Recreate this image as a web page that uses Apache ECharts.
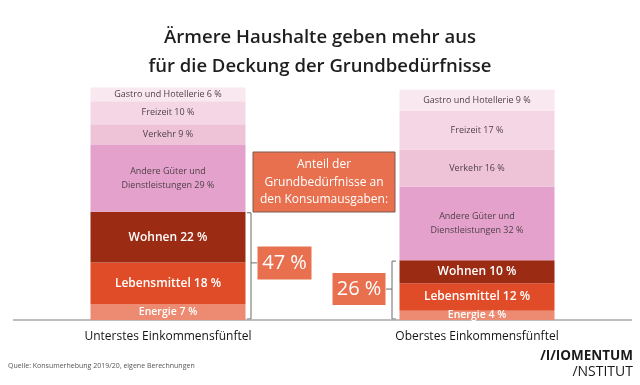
<!DOCTYPE html>
<html><head><meta charset="utf-8">
<script src="https://cdn.jsdelivr.net/npm/echarts@6/dist/echarts.min.js"></script>
<style>html,body{margin:0;padding:0;background:#fff}#c{width:640px;height:385px}</style>
</head><body><div id="c"></div>
<script>
// ---- data ----
const categories = ['Unterstes Einkommensfünftel', 'Oberstes Einkommensfünftel'];
const energie = [7, 4];
const lebensmittel = [18, 12];
const wohnen = [22, 10];
const andere = [29, 32];
const verkehr = [9, 16];
const freizeit = [10, 17];
const gastro = [6, 9];
const anteilGrundbeduerfnisse = [47, 26];

const FONT = 'Open Sans';
const chart = echarts.init(document.getElementById('c'), null, {renderer: 'canvas'});

function seg(name, labelName, data, color, textColor, size, weight, lh) {
  return {
    name: name, type: 'bar', stack: 'total', data: data, barWidth: 155,
    itemStyle: {color: color},
    emphasis: {disabled: true},
    label: {
      show: true, position: 'inside',
      formatter: p => labelName + ' ' + p.value + ' %',
      color: textColor, fontSize: size, fontWeight: weight, fontFamily: FONT,
      lineHeight: lh || Math.round(size * 1.3)
    }
  };
}

const option = {
  animation: false,
  backgroundColor: '#ffffff',
  title: {
    text: 'Ärmere Haushalte geben mehr aus\nfür die Deckung der Grundbedürfnisse',
    left: 'center', top: 18,
    textStyle: {fontFamily: FONT, fontSize: 18.5, fontWeight: 600, color: '#1e1e1e', lineHeight: 29}
  },
  grid: {left: 13.5, right: 8.5, top: 66.7, bottom: 65},
  xAxis: {
    type: 'category', data: categories,
    axisLine: {lineStyle: {color: '#a8a8a8', width: 1.5}},
    axisTick: {show: false},
    axisLabel: {fontFamily: FONT, fontSize: 12, fontWeight: 500, color: '#151515', margin: 11}
  },
  yAxis: {type: 'value', min: 0, max: 110, show: false, splitLine: {show: false}},
  series: [
    seg('Energie', 'Energie', energie, '#ec8b72', '#ffffff', 10.5, 600),
    seg('Lebensmittel', 'Lebensmittel', lebensmittel, '#e14c28', '#ffffff', 12, 600),
    seg('Wohnen', 'Wohnen', wohnen, '#9c2b14', '#ffffff', 12, 600),
    seg('Andere Güter und Dienstleistungen', 'Andere Güter und\nDienstleistungen', andere, '#e4a1cb', '#4f3f47', 9, 400, 14),
    seg('Verkehr', 'Verkehr', verkehr, '#eec3d8', '#4f3f47', 9, 400),
    seg('Freizeit', 'Freizeit', freizeit, '#f5d6e4', '#4f3f47', 9, 400),
    seg('Gastro und Hotellerie', 'Gastro und Hotellerie', gastro, '#f9e8f0', '#4f3f47', 9, 400)
  ]
};
chart.setOption(option);

// ---- annotations positioned from the axes ----
const halfBar = 77.5;
const basic0 = energie[0] + lebensmittel[0] + wohnen[0];
const basic1 = energie[1] + lebensmittel[1] + wohnen[1];
const p0top = chart.convertToPixel({gridIndex: 0}, [0, basic0]);
const p0bot = chart.convertToPixel({gridIndex: 0}, [0, 0]);
const p1top = chart.convertToPixel({gridIndex: 0}, [1, basic1]);
const p1bot = chart.convertToPixel({gridIndex: 0}, [1, 0]);

const bx0 = p0top[0] + halfBar + 5.5;
const by0t = p0top[1] + 1, by0b = p0bot[1] - 1;
const mid0 = (by0t + by0b) / 2 - 3;
const bx1 = p1top[0] - halfBar - 7.5;
const by1t = p1top[1] + 1, by1b = p1bot[1] - 1;
const mid1 = (by1t + by1b) / 2 - 1;
const lineStyle = {stroke: '#6a6a6a', lineWidth: 1};
const boxColor = '#e8704f';

const graphics = [
  // left bracket
  {type: 'polyline', shape: {points: [[bx0 - 4, by0t], [bx0, by0t], [bx0, by0b], [bx0 - 4, by0b]]}, style: Object.assign({fill: null}, lineStyle)},
  {type: 'line', shape: {x1: bx0, y1: mid0, x2: bx0 + 6, y2: mid0}, style: lineStyle},
  {type: 'rect', shape: {x: bx0 + 6.5, y: mid0 - 16.5, width: 54, height: 33}, style: {fill: boxColor}},
  {type: 'text', x: bx0 + 33.5, y: mid0, style: {text: anteilGrundbeduerfnisse[0] + ' %', fill: '#fff', fontSize: 20, fontFamily: FONT, fontWeight: 500, align: 'center', verticalAlign: 'middle'}},
  // right bracket
  {type: 'polyline', shape: {points: [[bx1 + 4, by1t], [bx1, by1t], [bx1, by1b], [bx1 + 4, by1b]]}, style: Object.assign({fill: null}, lineStyle)},
  {type: 'line', shape: {x1: bx1, y1: mid1, x2: bx1 - 6, y2: mid1}, style: lineStyle},
  {type: 'rect', shape: {x: bx1 - 59.5, y: mid1 - 16, width: 53, height: 32}, style: {fill: boxColor}},
  {type: 'text', x: bx1 - 33, y: mid1, style: {text: anteilGrundbeduerfnisse[1] + ' %', fill: '#fff', fontSize: 20, fontFamily: FONT, fontWeight: 500, align: 'center', verticalAlign: 'middle'}},
  // middle caption box
  {type: 'rect', shape: {x: 253, y: 152, width: 142, height: 60}, style: {fill: boxColor, stroke: '#7d5a50', lineWidth: 1}},
  {type: 'text', x: 324, y: 182.5, style: {text: 'Anteil der\nGrundbedürfnisse an\nden Konsumausgaben:', fill: '#fff', fontSize: 12, lineHeight: 17.5, fontFamily: FONT, align: 'center', verticalAlign: 'middle'}},
  // source
  {type: 'text', left: 8, top: 362, style: {text: 'Quelle: Konsumerhebung 2019/20, eigene Berechnungen', fill: '#555', fontSize: 7, fontFamily: FONT}},
  // logo
  {type: 'text', right: 7, top: 349, style: {text: '/I/IOMENTUM', fill: '#1a1a1a', fontSize: 13.5, fontWeight: 'bold', fontFamily: FONT}},
  {type: 'text', right: 7, top: 365, style: {text: '/NSTITUT', fill: '#1a1a1a', fontSize: 14, fontFamily: FONT}}
];
chart.setOption({graphic: graphics});
</script>
</body></html>
